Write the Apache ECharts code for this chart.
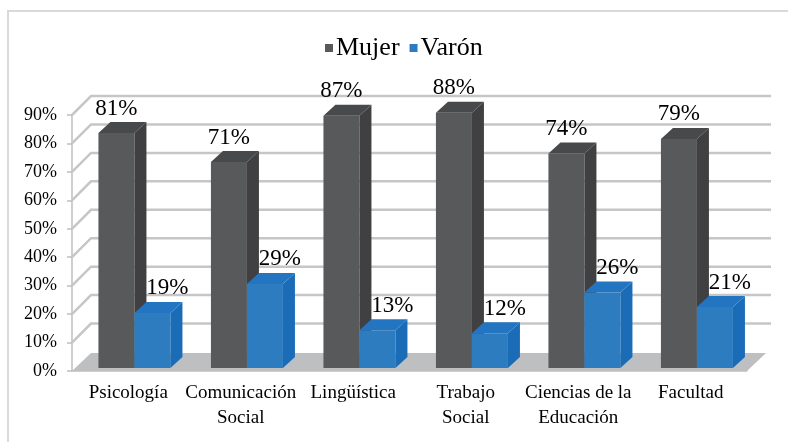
<!DOCTYPE html>
<html>
<head>
<meta charset="utf-8">
<script src="https://cdn.jsdelivr.net/npm/echarts@6/dist/echarts.min.js"></script>
<style>
  html, body { margin: 0; padding: 0; background: #fff; }
  #chart { width: 788px; height: 442px; }
</style>
</head>
<body>
<div id="chart"></div>
<script>
// datos
const categorias = ["Psicología", "Comunicación\nSocial", "Lingüística", "Trabajo\nSocial", "Ciencias de la\nEducación", "Facultad"];
const mujer = [81, 71, 87, 88, 74, 79];
const varon = [19, 29, 13, 12, 26, 21];
const lineasGrid = [10, 20, 30, 40, 50, 60, 70, 80, 90];

const FONT = "Liberation Serif";
const DX = 19, DY = 19;      // fondo de la "caja" 3D
const BDX = 12, BDY = 11;    // profundidad de cada barra

const colores = {
  mujer: { front: "#58595B", side: "#404042", top: "#48494B" },
  varon: { front: "#2E7CC0", side: "#1A6CB7", top: "#2375C2" },
};

const chart = echarts.init(document.getElementById("chart"));

// piso gris
const renderPiso = (params, api) => {
  const cs = params.coordSys;
  const y = api.coord([0, 0])[1];
  const x0 = cs.x, x1 = cs.x + cs.width;
  return {
    type: "polygon",
    shape: { points: [[x0, y], [x0 + DX, y - DY + 1], [x1 + DX, y - DY + 1], [x1, y]] },
    style: { fill: "#BEBFC1" },
  };
};

// lineas de la grilla (pared del fondo)
const renderGrilla = (params, api) => {
  const cs = params.coordSys;
  const y = api.coord([0, api.value(1)])[1];
  const x0 = cs.x, x1 = cs.x + cs.width;
  return {
    type: "polyline",
    shape: { points: [[x0, y], [x0 + DX, y - DY], [x1 + DX + 5, y - DY]] },
    style: { stroke: "#C6C6C6", lineWidth: 2.5, fill: null },
  };
};

const barra3d = (col, inicio, dxLabel) => (params, api) => {
  const idx = api.value(0);
  const val = api.value(1);
  const w = api.size([1, 0])[0];
  const xStart = api.coord([idx, 0])[0] - w / 2;
  const xl = xStart + inicio * w;
  const xr = xl + 0.32 * w;
  const yTop = api.coord([idx, val])[1];
  const yBot = api.coord([idx, 0])[1];
  return {
    type: "group",
    children: [
      { type: "rect", shape: { x: xl, y: yTop, width: xr - xl, height: yBot - yTop }, style: { fill: col.front } },
      { type: "polygon", shape: { points: [[xr, yTop], [xr + BDX, yTop - BDY], [xr + BDX, yBot - BDY], [xr, yBot]] }, style: { fill: col.side } },
      { type: "polygon", shape: { points: [[xl, yTop], [xl + BDX, yTop - BDY], [xr + BDX, yTop - BDY], [xr, yTop]] }, style: { fill: col.top } },
      {
        type: "text",
        x: (xl + xr) / 2 + dxLabel,
        y: yTop - BDY - 2,
        style: { text: val + "%", fontFamily: FONT, fontSize: 23, fill: "#000", align: "center", verticalAlign: "bottom" },
      },
    ],
  };
};

chart.setOption({
  animation: false,
  graphic: [
    { type: "rect", shape: { x: 8, y: 11, width: 820, height: 460 }, style: { fill: null, stroke: "#D9D9D9", lineWidth: 2 }, z: -10 },
  ],
  legend: {
    left: 320,
    top: 30,
    icon: "rect",
    itemWidth: 8,
    itemHeight: 8,
    itemGap: 10,
    textStyle: { fontFamily: FONT, fontSize: 26, color: "#000", padding: [0, 0, 0, -2] },
    data: ["Mujer", "Varón"],
  },
  grid: [
    { left: 72, right: 41, top: 115, bottom: 71 },
    { left: 72, right: 41, top: 107, bottom: 74 },
  ],
  xAxis: [
    {
      type: "category",
      gridIndex: 0,
      data: categorias,
      axisLine: { lineStyle: { color: "#BFBFBF", width: 1.5 } },
      axisTick: { length: 5, lineStyle: { color: "#BFBFBF", width: 1.5 } },
      axisLabel: { fontFamily: FONT, fontSize: 19, color: "#000", margin: 10, lineHeight: 25, interval: 0 },
    },
    { type: "category", gridIndex: 1, data: categorias, show: false },
  ],
  yAxis: [
    {
      type: "value",
      gridIndex: 0,
      min: 0,
      max: 90,
      interval: 10,
      axisLine: { show: true, lineStyle: { color: "#BFBFBF", width: 1.5 } },
      axisTick: { show: true, length: 5, lineStyle: { color: "#BFBFBF", width: 1.5 } },
      splitLine: { show: false },
      axisLabel: { formatter: "{value}%", fontFamily: FONT, fontSize: 18, color: "#000", margin: 15 },
    },
    { type: "value", gridIndex: 1, min: 0, max: 90, show: false, splitLine: { show: false } },
  ],
  series: [
    {
      type: "custom", xAxisIndex: 0, yAxisIndex: 0, z: 1, silent: true,
      renderItem: renderPiso, data: [[0, 0]],
    },
    {
      type: "custom", xAxisIndex: 0, yAxisIndex: 0, z: 1, silent: true,
      renderItem: renderGrilla, data: lineasGrid.map((v) => [0, v]),
    },
    {
      name: "Mujer", type: "custom", xAxisIndex: 1, yAxisIndex: 1, z: 3,
      itemStyle: { color: colores.mujer.front },
      renderItem: barra3d(colores.mujer, 0.235, 0),
      data: mujer.map((v, i) => [i, v]),
    },
    {
      name: "Varón", type: "custom", xAxisIndex: 1, yAxisIndex: 1, z: 4,
      itemStyle: { color: colores.varon.front },
      renderItem: barra3d(colores.varon, 0.555, 15),
      data: varon.map((v, i) => [i, v]),
    },
  ],
});
</script>
</body>
</html>
